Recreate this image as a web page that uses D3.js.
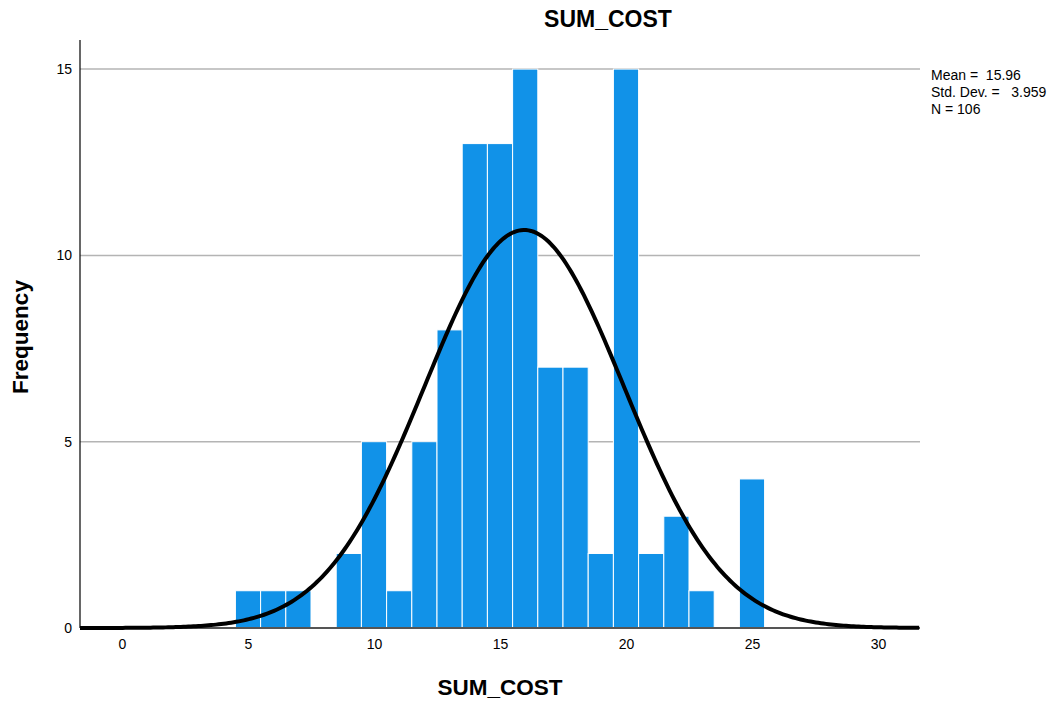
<!DOCTYPE html>
<html>
<head>
<meta charset="utf-8">
<script src="https://cdn.jsdelivr.net/npm/d3@7"></script>
<style>
  body { margin: 0; background: #fff; }
  text { font-family: "Liberation Sans", Arial, sans-serif; }
</style>
</head>
<body>
<div id="container"></div>
<script>
let w = 1055;
let h = 702;

// histogram bins (centre of each 1-wide bin) and counts
let binCenters = [5, 6, 7, 8, 9, 10, 11, 12, 13, 14, 15, 16, 17, 18, 19, 20, 21, 22, 23, 24, 25];
let counts     = [1, 1, 1, 0, 2, 5, 1, 5, 8, 13, 13, 15, 7, 7, 2, 15, 2, 3, 1, 0, 4];
let xTicks = [0, 5, 10, 15, 20, 25, 30];
let yTicks = [0, 5, 10, 15];
let mean = 15.96;
let sd = 3.959;
let n = 106;
let statLines = ["Mean =  15.96", "Std. Dev. =   3.959", "N = 106"];

// plot area
let plotLeft = 80, plotRight = 920, plotTop = 40, plotBottom = 628;

let viz = d3.select("#container")
  .append("svg")
    .attr("width", w)
    .attr("height", h)
    .style("background-color", "white");

let xScale = d3.scaleLinear().domain([-1.667, 31.667]).range([plotLeft, plotRight]);
let yScale = d3.scaleLinear().domain([0, 15.78]).range([plotBottom, plotTop]);

// gridlines
viz.append("g").selectAll("line")
  .data(yTicks.filter(d => d > 0))
  .enter().append("line")
    .attr("x1", plotLeft).attr("x2", plotRight)
    .attr("y1", d => yScale(d)).attr("y2", d => yScale(d))
    .attr("stroke", "#b4b4b4")
    .attr("stroke-width", 1.5);

// bars
let bw = xScale(1) - xScale(0);
viz.append("g").selectAll("rect")
  .data(binCenters.map((c, i) => ({c: c, v: counts[i]})).filter(d => d.v > 0))
  .enter().append("rect")
    .attr("x", d => xScale(d.c - 0.5))
    .attr("width", bw)
    .attr("y", d => yScale(d.v))
    .attr("height", d => plotBottom - yScale(d.v))
    .attr("fill", "#1192e8")
    .attr("stroke", "white")
    .attr("stroke-width", 1);

// y axis
let yAxis = d3.axisLeft(yScale).tickValues(yTicks).tickSize(0).tickPadding(8);
let yAxisGroup = viz.append("g").attr("transform", "translate(" + plotLeft + ",0)").call(yAxis);
yAxisGroup.select(".domain").remove();
yAxisGroup.selectAll("text").style("font-size", "14px").attr("fill", "#000");
viz.append("line")
  .attr("x1", plotLeft).attr("x2", plotLeft).attr("y1", plotTop).attr("y2", plotBottom)
  .attr("stroke", "#000").attr("stroke-width", 1.2);

// x axis
let xAxis = d3.axisBottom(xScale).tickValues(xTicks).tickSize(0).tickPadding(11);
let xAxisGroup = viz.append("g").attr("transform", "translate(0," + plotBottom + ")").call(xAxis);
xAxisGroup.select(".domain").remove();
xAxisGroup.selectAll("text").style("font-size", "14px").attr("fill", "#000");
viz.append("line")
  .attr("x1", plotLeft).attr("x2", plotRight).attr("y1", plotBottom).attr("y2", plotBottom)
  .attr("stroke", "#555").attr("stroke-width", 2);

// normal curve scaled to the counts
let curveX = d3.range(-1.667, 31.67, 0.1);
let pdf = function(x){
  return n / (sd * Math.sqrt(2 * Math.PI)) * Math.exp(-0.5 * Math.pow((x - mean) / sd, 2));
};
let line = d3.line()
  .x(d => xScale(d))
  .y(d => yScale(pdf(d)));
viz.append("path")
  .datum(curveX)
  .attr("d", line)
  .attr("fill", "none")
  .attr("stroke", "#000")
  .attr("stroke-width", 4);

// titles
viz.append("text").text("SUM_COST")
  .attr("x", 608).attr("y", 27)
  .attr("text-anchor", "middle")
  .style("font-size", "23px").style("font-weight", "bold");

viz.append("text").text("SUM_COST")
  .attr("x", 500).attr("y", 695)
  .attr("text-anchor", "middle")
  .style("font-size", "22.5px").style("font-weight", "bold");

viz.append("text").text("Frequency")
  .attr("transform", "translate(28,337) rotate(-90)")
  .attr("text-anchor", "middle")
  .style("font-size", "22.5px").style("font-weight", "bold");

// stats text
viz.append("g").selectAll("text")
  .data(statLines)
  .enter().append("text")
    .text(d => d)
    .attr("x", 931)
    .attr("y", (d, i) => 80 + i * 17)
    .style("font-size", "14px")
    .style("white-space", "pre");
</script>
</body>
</html>
